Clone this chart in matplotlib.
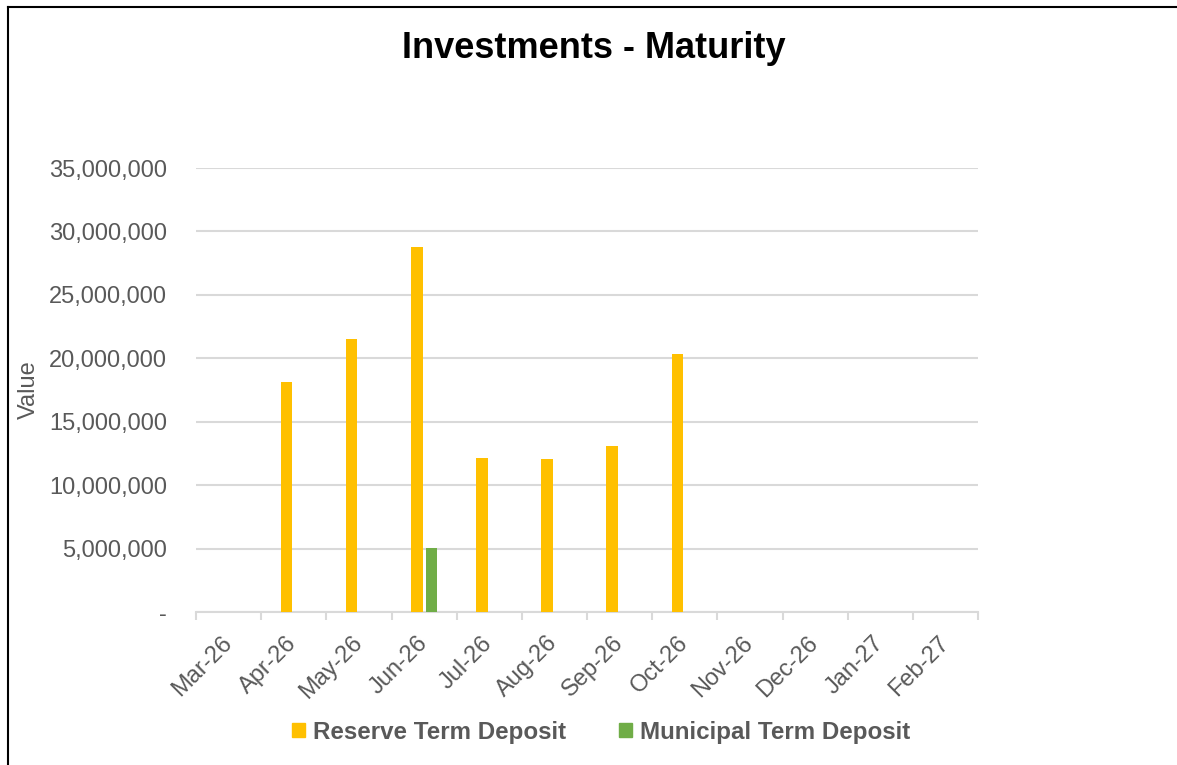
import numpy as np
import matplotlib.pyplot as plt
from matplotlib.lines import Line2D
from matplotlib.patches import Patch
from matplotlib.ticker import FuncFormatter, FixedLocator

plt.rcParams['font.family'] = ['Liberation Sans', 'DejaVu Sans']

months = ["Mar-26", "Apr-26", "May-26", "Jun-26", "Jul-26", "Aug-26",
          "Sep-26", "Oct-26", "Nov-26", "Dec-26", "Jan-27", "Feb-27"]
reserve = [0, 18150000, 21550000, 28800000, 12150000, 12050000,
           13070000, 20350000, 0, 0, 0, 0]
municipal = [0, 0, 0, 5020000, 0, 0, 0, 0, 0, 0, 0, 0]

yellow = "#FFC000"
green = "#70AD47"
grey = "#595959"
grid = "#D9D9D9"

fig = plt.figure(figsize=(11.77, 7.65), dpi=100)
ax = fig.add_axes([196 / 1177, 1 - 612 / 765, (978 - 196) / 1177, (612 - 168) / 765])

x = np.arange(len(months))
w = 0.18
off = 0.113
ax.bar(x - off, reserve, width=w, color=yellow, zorder=3)
ax.bar(x + off, municipal, width=w, color=green, zorder=3)

ax.set_xlim(-0.5, len(months) - 0.5)
ax.set_ylim(0, 35000000)
ax.set_yticks(np.arange(0, 35000001, 5000000))
ax.yaxis.set_major_formatter(FuncFormatter(lambda v, p: "-" if v == 0 else f"{v:,.0f}"))
ax.grid(axis='y', color=grid, linewidth=1.5, zorder=0)

ax.set_xticks(x)
ax.set_xticklabels(months, rotation=45, ha='right', va='center', rotation_mode='anchor')
ax.xaxis.set_minor_locator(FixedLocator(np.arange(-0.5, len(months), 1.0)))
ax.tick_params(axis='x', which='major', length=0, pad=20, labelsize=17, labelcolor=grey)
ax.tick_params(axis='x', which='minor', length=6, width=1.5, color=grid)
ax.tick_params(axis='y', length=0, pad=21, labelsize=17, labelcolor=grey)

for s in ['top', 'right', 'left']:
    ax.spines[s].set_visible(False)
ax.spines['bottom'].set_color(grid)
ax.spines['bottom'].set_linewidth(1.5)

fig.text(594 / 1177, 1 - 48 / 765, "Investments - Maturity", ha='center', va='center',
         fontsize=26, fontweight='bold', color='black')
fig.text(29 / 1177, 1 - 390 / 765, "Value", rotation=90, ha='center', va='center',
         fontsize=17, color=grey)

handles = [Patch(color=yellow, label="Reserve Term Deposit"),
           Patch(color=green, label="Municipal Term Deposit")]
leg = fig.legend(handles=handles, loc='center', bbox_to_anchor=(601 / 1177, 1 - 732 / 765),
                 ncol=2, frameon=False, handlelength=0.55, handleheight=0.55,
                 handletextpad=0.3, columnspacing=2.2,
                 prop={'size': 17.4, 'weight': 'bold'})
for t in leg.get_texts():
    t.set_color(grey)

# outer frame (top and left edges only visible)
fig.add_artist(Line2D([8 / 1177, 1], [1 - 7 / 765, 1 - 7 / 765], transform=fig.transFigure,
                      color='black', linewidth=1.5))
fig.add_artist(Line2D([8 / 1177, 8 / 1177], [0, 1 - 7 / 765], transform=fig.transFigure,
                      color='black', linewidth=1.5))

fig.savefig("out.png", dpi=100)
